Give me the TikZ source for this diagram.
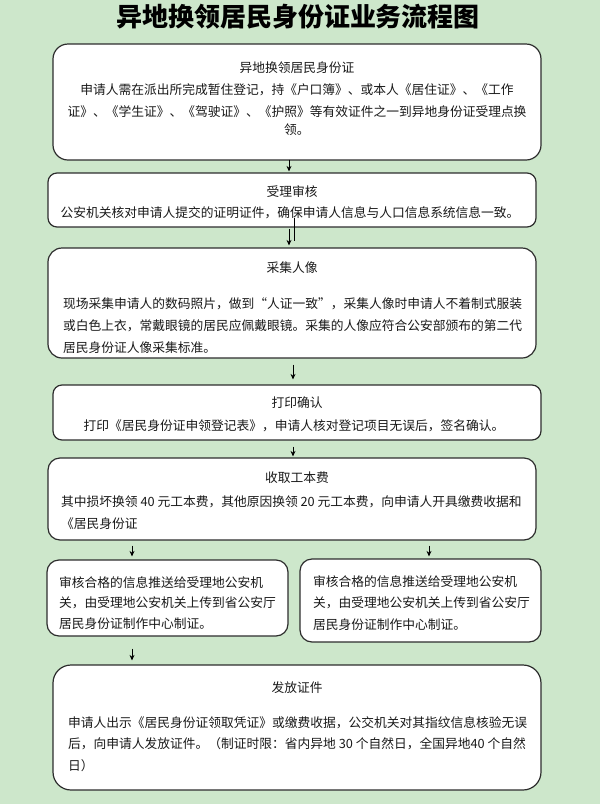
\documentclass[tikz,border=0pt]{standalone}
\usepackage{fontspec}
\setmainfont{Noto Sans CJK SC}
\usetikzlibrary{calc,arrows.meta}
\definecolor{bgcol}{RGB}{205,231,203}
\definecolor{boxline}{RGB}{45,45,45}
\definecolor{txtcol}{RGB}{25,25,25}
\begin{document}
\begin{tikzpicture}[x=1pt,y=-1pt,
  box/.style={draw=boxline, line width=1.2pt, fill=white, inner sep=0pt},
  txt/.style={inner sep=0pt, text=txtcol, font=\fontsize{12.75}{22}\selectfont},
  arr/.style={draw=black, line width=0.8pt, -{Stealth[length=5.5pt,width=5pt]}},
  bar/.style={draw=black, line width=1.8pt}]
\fill[bgcol] (0,0) rectangle (600,804);
\useasboundingbox (0,0) rectangle (600,804);

% title
\node[inner sep=0pt, font=\fontsize{26}{30}\selectfont\bfseries] (title) at (298,17) {异地换领居民身份证业务流程图};

% boxes
\node[box, rounded corners=15pt, minimum width=488pt, minimum height=116pt] (b1) at (297,102) {};
\node[box, rounded corners=9pt, minimum width=488pt, minimum height=54pt] (b2) at (292,200) {};
\node[box, rounded corners=14pt, minimum width=488pt, minimum height=110pt] (b3) at (292,303) {};
\node[box, rounded corners=9pt, minimum width=488pt, minimum height=55pt] (b4) at (297,412.5) {};
\node[box, rounded corners=12pt, minimum width=488pt, minimum height=82pt] (b5) at (292,499) {};
\node[box, rounded corners=12pt, minimum width=241pt, minimum height=76pt] (b6l) at (167.5,598) {};
\node[box, rounded corners=12pt, minimum width=241pt, minimum height=83pt] (b6r) at (420.5,600.5) {};
\node[box, rounded corners=18pt, minimum width=488pt, minimum height=125pt] (b7) at (297,727.5) {};

% texts
\node[txt, anchor=north, align=center] (t1) at (297,62) {异地换领居民身份证\\申请人需在派出所完成暂住登记，持《户口簿》、或本人《居住证》、《工作\\证》、《学生证》、《驾驶证》、《护照》等有效证件之一到异地身份证受理点换\\[-4pt]领。};

\node[txt] (t2h) at (292,192) {受理审核};
\node[txt] (t2b) at (290,213) {公安机关核对申请人提交的证明证件，确保申请人信息与人口信息系统信息一致。};

\node[txt] (t3h) at (292,268) {采集人像};
\node[txt, anchor=north west, align=left] (t3b) at (63,297) {现场采集申请人的数码照片，做到“人证一致”，采集人像时申请人不着制式服装\\或白色上衣，常戴眼镜的居民应佩戴眼镜。采集的人像应符合公安部颁布的第二代\\居民身份证人像采集标准。};

\node[txt] (t4h) at (297,403) {打印确认};
\node[txt] (t4b) at (294,426) {打印《居民身份证申领登记表》，申请人核对登记项目无误后，签名确认。};

\node[txt] (t5h) at (297,478) {收取工本费};
\node[txt, anchor=north west, align=left] (t5b) at (61,496) {其中损坏换领 40 元工本费，其他原因换领 20 元工本费，向申请人开具缴费收据和\\《居民身份证};

\node[txt, anchor=north west, align=left, font=\fontsize{12.75}{20.5}\selectfont] (t6l) at (59,576) {审核合格的信息推送给受理地公安机\\关，由受理地公安机关上传到省公安厅\\居民身份证制作中心制证。};
\node[txt, anchor=north west, align=left, font=\fontsize{12.75}{21.5}\selectfont] (t6r) at (313,575) {审核合格的信息推送给受理地公安机\\关，由受理地公安机关上传到省公安厅\\居民身份证制作中心制证。};

\node[txt] (t7h) at (297,688) {发放证件};
\node[txt, anchor=north west, align=left, font=\fontsize{12.75}{21.5}\selectfont] (t7b) at (68,716) {申请人出示《居民身份证领取凭证》或缴费收据，公交机关对其指纹信息核验无误\\后，向申请人发放证件。（制证时限：省内异地 30 个自然日，全国异地40 个自然\\日）};

% connectors
\draw[arr] ($(b1.south)+(-8,-1)$) -- ($(b2.north)+(-3,-1)$);
\draw[arr] ($(b2.south)+(-3,1)$) -- ($(b3.north)+(-3,-2)$);
\draw[bar] ($(b2.south)+(2.5,-10)$) -- ($(b3.north)+(2.5,-6)$);
\draw[arr] ($(b3.south)+(1,6)$) -- ($(b4.north)+(-4,-5)$);
\draw[arr] ($(b4.south)+(-4,6)$) -- ($(b5.north)+(1,-1)$);
\draw[arr] ($(b5.south)+(-160,5)$) -- ($(b6l.north)+(-35.5,-3)$);
\draw[arr] ($(b5.south)+(137,5)$) -- ($(b6r.north)+(8.5,-2)$);
\draw[arr] ($(b6l.south)+(-35.5,12)$) -- ($(b7.north)+(-165,-4)$);
\end{tikzpicture}
\end{document}
